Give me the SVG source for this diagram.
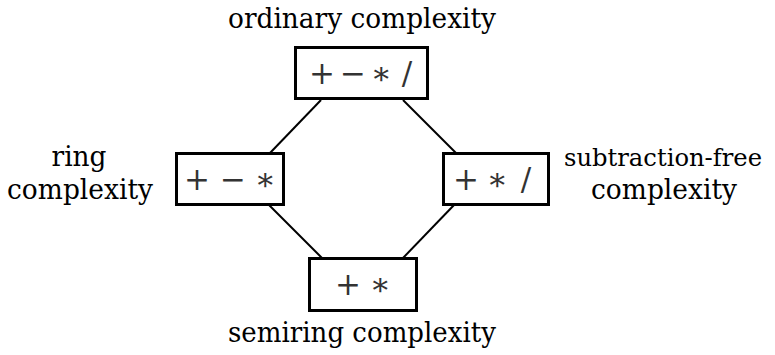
<svg xmlns="http://www.w3.org/2000/svg" width="775" height="355" viewBox="0 0 775 355">
<style>
.box{fill:#fff;stroke:#000;stroke-width:3}
.lbl{font-family:'DejaVu Serif',serif;font-size:27px;fill:#000;text-anchor:middle}
.op{font-family:'DejaVu Serif',serif;font-size:31px;fill:#333;text-anchor:middle}
.edge{stroke:#000;stroke-width:2;fill:none}
</style>
<rect width="775" height="355" fill="#fff"/>
<g id="connectors">
<line class="edge" x1="321" y1="100" x2="270" y2="153"/>
<line class="edge" x1="403" y1="100" x2="456" y2="153"/>
<line class="edge" x1="268" y1="204" x2="322" y2="258"/>
<line class="edge" x1="455" y1="204" x2="403" y2="258"/>
</g>
<g id="ordinary">
<rect class="box" x="295.5" y="47.5" width="132" height="51"/>
<text class="op" y="84"><tspan x="322">+</tspan><tspan x="353">−</tspan><tspan x="381">∗</tspan><tspan x="407">/</tspan></text>
<text class="lbl" x="362" y="28" textLength="268" lengthAdjust="spacingAndGlyphs">ordinary complexity</text>
</g>
<g id="ring">
<rect class="box" x="176.5" y="153.5" width="107" height="51"/>
<text class="op" y="190"><tspan x="197">+</tspan><tspan x="233">−</tspan><tspan x="265">∗</tspan></text>
<text class="lbl" x="79" y="166" textLength="55" lengthAdjust="spacingAndGlyphs">ring</text>
<text class="lbl" x="80" y="199" textLength="146" lengthAdjust="spacingAndGlyphs">complexity</text>
</g>
<g id="subfree">
<rect class="box" x="443.5" y="153.5" width="105" height="51"/>
<text class="op" y="190"><tspan x="466">+</tspan><tspan x="497">∗</tspan><tspan x="526">/</tspan></text>
<text class="lbl" x="663" y="166" style="font-size:25px" textLength="198" lengthAdjust="spacingAndGlyphs">subtraction-free</text>
<text class="lbl" x="664" y="199" textLength="146" lengthAdjust="spacingAndGlyphs">complexity</text>
</g>
<g id="semiring">
<rect class="box" x="309.5" y="258.5" width="107" height="52"/>
<text class="op" y="295"><tspan x="348">+</tspan><tspan x="380">∗</tspan></text>
<text class="lbl" x="362" y="342" textLength="268" lengthAdjust="spacingAndGlyphs">semiring complexity</text>
</g>
</svg>
